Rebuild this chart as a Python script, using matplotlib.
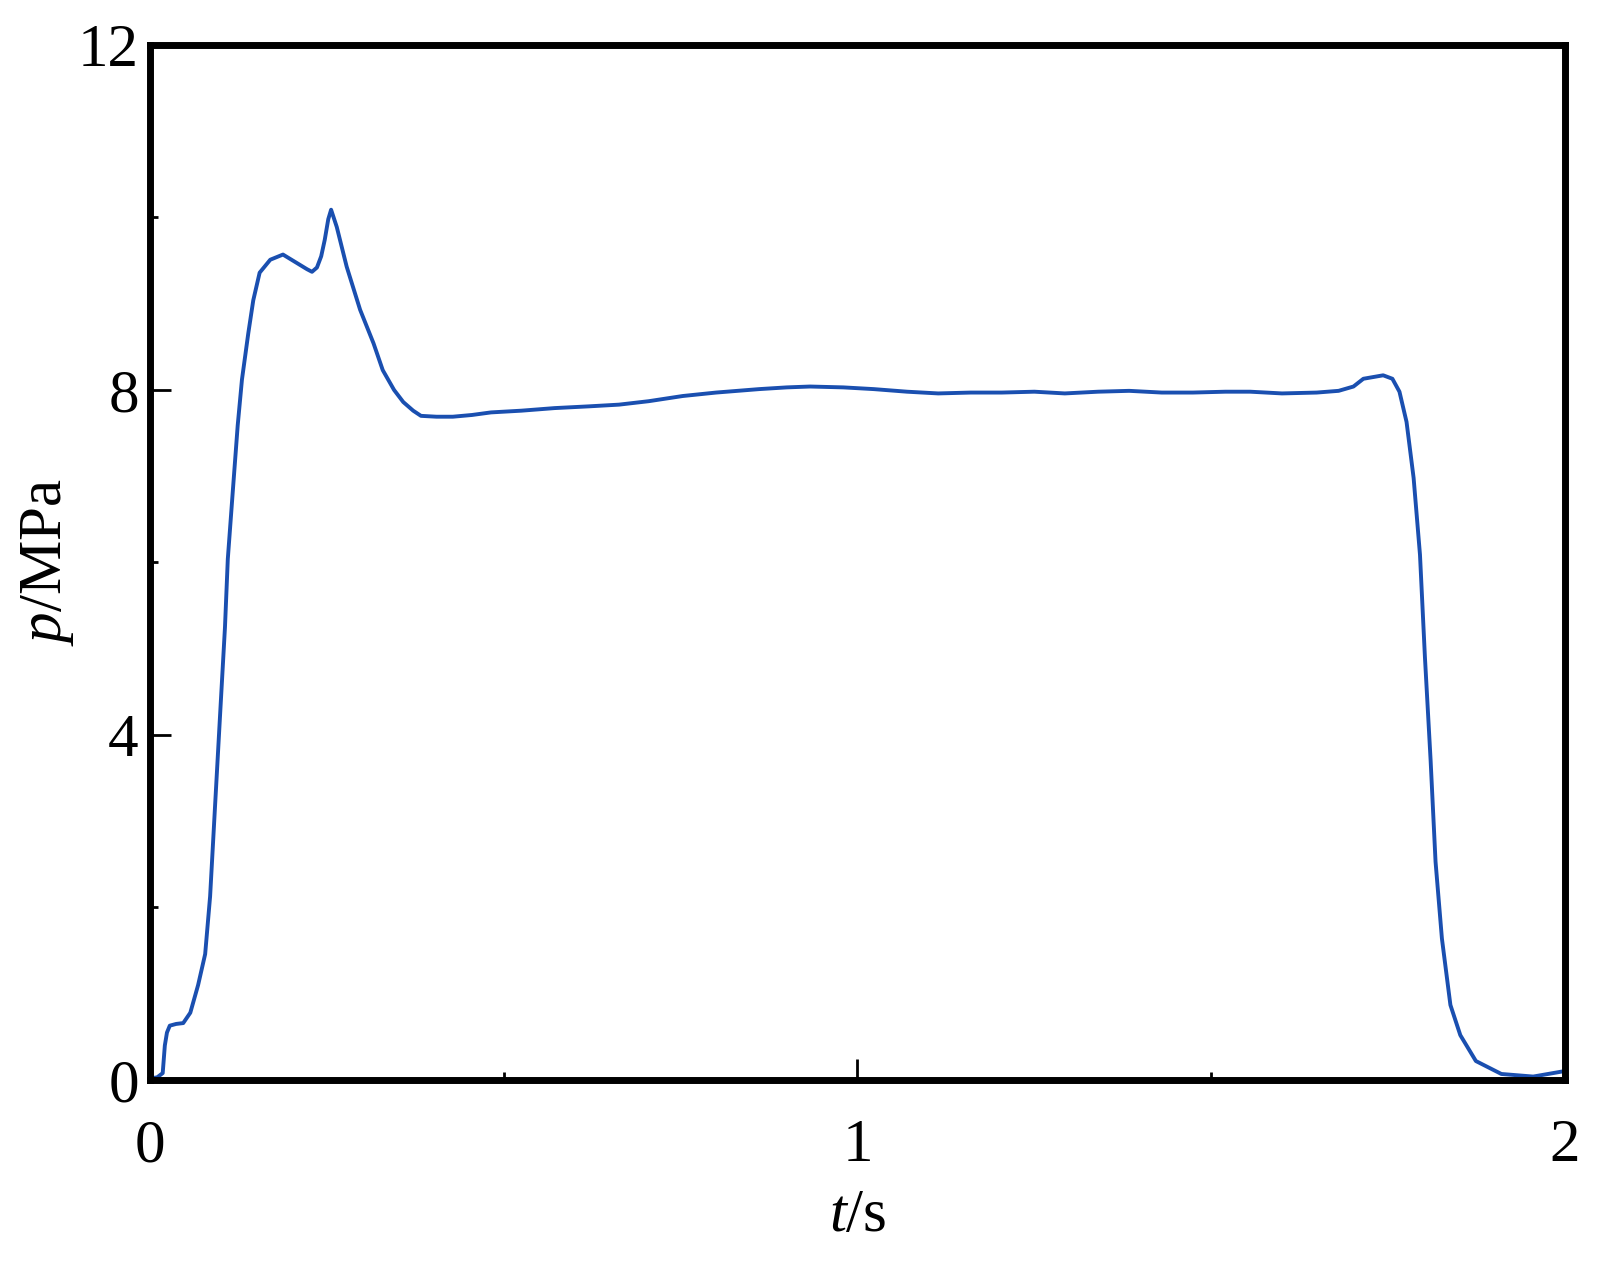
import matplotlib
matplotlib.use('Agg')
import matplotlib.pyplot as plt

# pressure trace
t_s = [0.000, 0.010, 0.018, 0.021, 0.024, 0.028, 0.037, 0.047, 0.057, 0.068,
       0.078, 0.085, 0.092, 0.099, 0.106, 0.110, 0.117, 0.124, 0.130, 0.139,
       0.146, 0.155, 0.170, 0.188, 0.208, 0.222, 0.229, 0.236, 0.242, 0.247,
       0.252, 0.256, 0.264, 0.278, 0.297, 0.316, 0.329, 0.345, 0.358, 0.372,
       0.383, 0.405, 0.428, 0.455, 0.482, 0.525, 0.572, 0.620, 0.663, 0.705,
       0.753, 0.800, 0.861, 0.900, 0.933, 0.980, 1.023, 1.070, 1.114, 1.160,
       1.204, 1.250, 1.293, 1.340, 1.384, 1.430, 1.474, 1.520, 1.555, 1.600,
       1.649, 1.680, 1.701, 1.715, 1.743, 1.756, 1.766, 1.776, 1.786, 1.795,
       1.802, 1.810, 1.817, 1.826, 1.838, 1.852, 1.874, 1.910, 1.955, 1.997]
p_mpa = [0.02, 0.03, 0.08, 0.40, 0.55, 0.63, 0.65, 0.66, 0.78, 1.10,
         1.46, 2.13, 3.18, 4.22, 5.25, 6.04, 6.82, 7.59, 8.12, 8.66,
         9.04, 9.36, 9.51, 9.57, 9.47, 9.40, 9.37, 9.42, 9.55, 9.74,
         9.98, 10.09, 9.89, 9.43, 8.93, 8.54, 8.23, 8.00, 7.86, 7.76,
         7.70, 7.69, 7.69, 7.71, 7.74, 7.76, 7.79, 7.81, 7.83, 7.87,
         7.93, 7.97, 8.01, 8.03, 8.04, 8.03, 8.01, 7.98, 7.96, 7.97,
         7.97, 7.98, 7.96, 7.98, 7.99, 7.97, 7.97, 7.98, 7.98, 7.96,
         7.97, 7.99, 8.04, 8.13, 8.17, 8.13, 7.98, 7.63, 6.98, 6.09,
         4.90, 3.71, 2.53, 1.64, 0.87, 0.52, 0.22, 0.07, 0.04, 0.10]

x_major = [0, 1, 2]
x_minor = [0.5, 1.5]
y_major = [0, 4, 8, 12]
y_minor = [2, 6, 10]

plt.rcParams['font.family'] = ['Liberation Serif', 'DejaVu Serif']
plt.rcParams['mathtext.fontset'] = 'custom'
plt.rcParams['mathtext.rm'] = 'Liberation Serif'
plt.rcParams['mathtext.it'] = 'Liberation Serif:italic'

fig = plt.figure(figsize=(16.04, 12.7), dpi=100)
ax = fig.add_axes([0.0935, 0.1496, 0.8822, 0.815])

ax.plot(t_s, p_mpa, color='#1a4fb0', lw=2.8)

ax.set_xlim(0, 2)
ax.set_ylim(0, 12)
ax.set_xticks(x_major)
ax.set_xticks(x_minor, minor=True)
ax.set_yticks(y_major)
ax.set_yticks(y_minor, minor=True)

for sp in ax.spines.values():
    sp.set_linewidth(5)
ax.tick_params(which='both', direction='in', width=2, labelsize=44)
ax.tick_params(which='major', length=15)
ax.tick_params(which='minor', length=6)
ax.tick_params(axis='x', pad=28)
ax.tick_params(axis='y', pad=8)

ax.set_xlabel('$t$/s', fontsize=44)
ax.set_ylabel('$p$/MPa', fontsize=44)
ax.xaxis.set_label_coords(0.5, -0.105)
ax.yaxis.set_label_coords(-0.052, 0.5)

plt.savefig('out.png', dpi=100)
